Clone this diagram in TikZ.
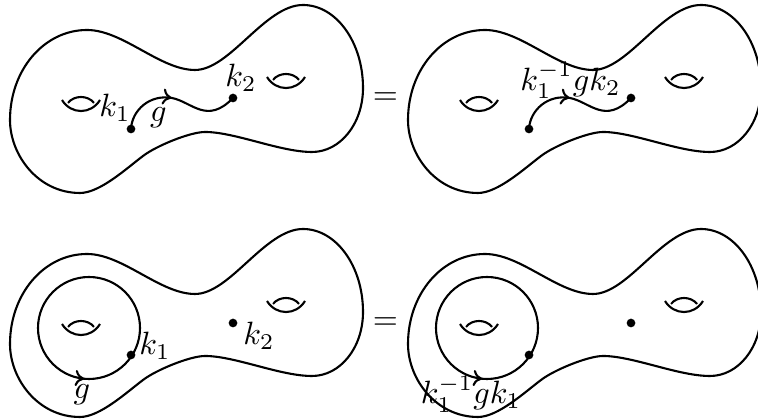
\documentclass[tikz,border=0pt]{standalone}
\usetikzlibrary{decorations.markings,arrows.meta}
\newcommand\peanut{%
  \draw (10,120) .. controls (10,70) and (44,30) .. (87,30)
    .. controls (123,30) and (160,70) .. (195,70)
    .. controls (230,70) and (265,5) .. (303,5)
    .. controls (336,5) and (363,42) .. (363,88)
    .. controls (363,124) and (340,152) .. (312,152)
    .. controls (280,152) and (235,132) .. (205,132)
    .. controls (190,132) and (156,146) .. (143,156)
    .. controls (127,168) and (100,193) .. (80,193)
    .. controls (38,193) and (10,155) .. (10,120) -- cycle;%
}
\newcommand\hole[1]{%
  \begin{scope}[shift={(#1)}]
    \draw (-19,0) .. controls (-10,14.7) and (10,14.7) .. (19,0);
    \draw (-13,3) .. controls (-7,-5) and (7,-5) .. (13,3);
  \end{scope}%
}
\begin{document}
\begin{tikzpicture}[x=0.31pt,y=-0.31pt,line width=0.65pt,
  dot/.style={circle,fill,inner sep=0pt,minimum size=2.7pt},
  lbl/.style={inner sep=0pt},
  mid arrow/.style={postaction={decorate},decoration={markings,mark=at position #1 with {\arrow{To[length=2.8pt,width=5pt]}}}}]
\useasboundingbox (0,0) rectangle (758,419);

% top left
\begin{scope}
  \peanut
  \hole{81,100}
  \hole{286,77}
  \node[dot] (ta) at (131,129) {};
  \node[dot] (tb) at (233,98) {};
  \draw[mid arrow=0.46] (ta.center) .. controls (132,110) and (150,94) .. (172,98) .. controls (192,102) and (207,125) .. (tb.center);
  \node[lbl] (tak) at (115,108) {$k_1$};
  \node[lbl] (tg) at (158.5,118) {$g$};
  \node[lbl] (tbk) at (241,78) {$k_2$};
\end{scope}
\node[lbl] (eq1) at (385.5,99) {$=$};

% top right
\begin{scope}[shift={(398,0)}]
  \peanut
  \hole{81,100}
  \hole{286,77}
  \node[dot] (tc) at (131,129) {};
  \node[dot] (td) at (233,98) {};
  \draw[mid arrow=0.46] (tc.center) .. controls (132,110) and (150,94) .. (172,98) .. controls (192,102) and (207,125) .. (td.center);
  \node[lbl] (tl) at (172.5,80.5) {$k_1^{-1}gk_2$};
\end{scope}

% bottom left
\begin{scope}[shift={(0,224)}]
  \peanut
  \hole{81,100}
  \hole{286,77}
  \draw[mid arrow=0.235] (38,104) arc[start angle=180,end angle=-180,radius=51];
  \node[dot] (ba) at (131,131) {};
  \node[dot] (bb) at (233,99) {};
  \node[lbl] (bak) at (155,122) {$k_1$};
  \node[lbl] (bg) at (82,171) {$g$};
  \node[lbl] (bbk) at (259,112) {$k_2$};
\end{scope}
\node[lbl] (eq2) at (385.5,324) {$=$};

% bottom right
\begin{scope}[shift={(398,224)}]
  \peanut
  \hole{81,100}
  \hole{286,77}
  \draw[mid arrow=0.235] (38,104) arc[start angle=180,end angle=-180,radius=51];
  \node[dot] (bc) at (131,131) {};
  \node[dot] (bd) at (233,99) {};
  \node[lbl] (bl) at (73,170) {$k_1^{-1}gk_1$};
\end{scope}
\end{tikzpicture}
\end{document}
